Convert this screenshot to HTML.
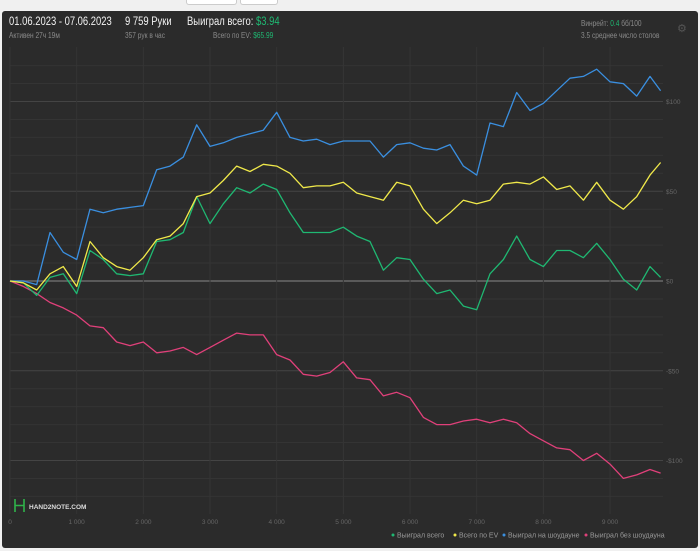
<!DOCTYPE html>
<html><head><meta charset="utf-8"><style>
body{margin:0;width:700px;height:551px;background:#f0f0f0;font-family:"Liberation Sans","Noto Sans CJK SC",sans-serif;overflow:hidden;position:relative}
.panel{position:absolute;left:2px;top:11px;width:696px;height:537px;background:#2b2b2b;border-radius:3px}
.t{position:absolute;white-space:nowrap;transform-origin:0 0}
.c{transform:scaleX(0.82)}
.btn{position:absolute;top:0;height:4px;background:#fff;border:1px solid #ccc;border-top:none;border-radius:0 0 3px 3px}
</style></head><body>
<div class="btn" style="left:186px;width:49px"></div>
<div class="btn" style="left:240px;width:36px"></div>
<div class="panel"></div>
<div class="t c" style="left:9px;top:16px;font-size:11.5px;color:#f2f2f2">01.06.2023 - 07.06.2023</div>
<div class="t c" style="left:9px;top:31px;font-size:8px;color:#8a8a8a">Активен 27ч 19м</div>
<div class="t c" style="left:125px;top:16px;font-size:11.5px;color:#f2f2f2">9 759 Руки</div>
<div class="t c" style="left:125px;top:31px;font-size:8px;color:#8a8a8a">357 рук в час</div>
<div class="t c" style="left:187px;top:16px;font-size:11.5px;color:#f2f2f2">Выиграл всего: <span style="color:#1fb872">$3.94</span></div>
<div class="t c" style="left:213px;top:31px;font-size:8px;color:#8a8a8a">Всего по EV: <span style="color:#1fb872">$65.99</span></div>
<div class="t c" style="left:581px;top:19px;font-size:8px;color:#8a8a8a">Винрейт: <span style="color:#1fb872">0.4</span> бб/100</div>
<div class="t c" style="left:581px;top:31px;font-size:8px;color:#8a8a8a">3.5 среднее число столов</div>
<div class="t" style="left:677px;top:22px;font-size:11px;color:#555">⚙</div>
<svg id="chart" width="700" height="551" style="position:absolute;left:0;top:0"></svg>
<script>
const hands=[0,200,400,600,800,1000,1200,1400,1600,1800,2000,2200,2400,2600,2800,3000,3200,3400,3600,3800,4000,4200,4400,4600,4800,5000,5200,5400,5600,5800,6000,6200,6400,6600,6800,7000,7200,7400,7600,7800,8000,8200,8400,8600,8800,9000,9200,9400,9600,9759];
const showdown=[0,0,-2,27,16,12,40,38,40,41,42,62,64,69,87,75,77,80,82,84,94,80,78,79,76,78,78,78,69,76,77,74,73,76,64,59,88,86,105,95,99,106,113,114,118,111,110,103,114,106];
const ev=[0,-1,-5,4,8,-3,22,13,8,6,13,23,25,32,47,49,56,64,61,65,64,60,52,53,53,55,49,47,45,55,53,40,32,38,45,43,45,54,55,54,58,51,53,45,55,45,40,47,59,66];
const total=[0,-1,-8,2,4,-7,17,12,4,3,4,22,23,27,47,32,43,52,49,54,51,38,27,27,27,30,25,22,6,13,12,1,-7,-5,-14,-16,4,12,25,12,8,17,17,13,21,12,1,-5,8,2];
const nonShowdown=[0,-3,-7,-12,-15,-19,-25,-26,-34,-36,-34,-40,-39,-37,-41,-37,-33,-29,-30,-30,-41,-44,-52,-53,-51,-45,-54,-55,-64,-62,-65,-76,-80,-80,-78,-77,-79,-77,-79,-85,-89,-93,-94,-100,-96,-102,-110,-108,-105,-107];
const xTicks=[0,1000,2000,3000,4000,5000,6000,7000,8000,9000];
const xTickLabels=["0","1 000","2 000","3 000","4 000","5 000","6 000","7 000","8 000","9 000"];
const yTicks=[100,50,0,-50,-100];
const yTickLabels=["$100","$50","$0","-$50","-$100"];
const legendLabels=["Выиграл всего","Всего по EV","Выиграл на шоудауне","Выиграл без шоудауна"];
const legendColors=["#1fb872","#f0e94a","#3a8fe0","#e0407a"];

const NS="http://www.w3.org/2000/svg";
const svg=document.getElementById('chart');
const X=h=>10+h*0.06667;
const Y=v=>281-v*1.795;
function mk(tag,attrs){const e=document.createElementNS(NS,tag);for(const k in attrs)e.setAttribute(k,attrs[k]);svg.appendChild(e);return e;}
for(let v=120;v>=-130;v-=10){
  const y=Y(v); if(y<47||y>514)continue;
  const g=mk('line',{x1:10,x2:663,y1:y,y2:y,stroke:v===0?'#6a6a6a':(v%50===0?'#444':'#343434'),'stroke-width':v===0?1.5:1});
  
  
}
for(let i=0;i<xTicks.length;i++){
  const x=X(xTicks[i]);
  const g=mk('line',{x1:x,x2:x,y1:47,y2:514,stroke:'#353535','stroke-width':1});
  
  
  const t=mk('text',{x:x,y:524,fill:'#666','font-size':6.5,'text-anchor':'middle','font-family':'Liberation Sans, sans-serif'});
  t.textContent=xTickLabels[i];
  
  
}
for(let i=0;i<yTicks.length;i++){
  const t=mk('text',{x:666,y:Y(yTicks[i])+2.5,fill:'#666','font-size':6.5,'font-family':'Liberation Sans, sans-serif'});
  t.textContent=yTickLabels[i];
  
  
}
const series=[[nonShowdown,legendColors[3],'line-non-showdown'],[showdown,legendColors[2],'line-showdown'],[total,legendColors[0],'line-total-won'],[ev,legendColors[1],'line-ev']];
for(const [d,c,n] of series){
  const p=mk('polyline',{points:d.map((v,i)=>X(hands[i]).toFixed(1)+','+Y(v).toFixed(1)).join(' '),fill:'none',stroke:c,'stroke-width':1.3,'stroke-linejoin':'round'});
  
  
}
const lx=[393,455,504,586];
for(let i=0;i<legendLabels.length;i++){
  const c=mk('circle',{cx:lx[i],cy:535,r:1.5,fill:legendColors[i]});
  
  
  const t=mk('text',{x:lx[i]+4,y:537.5,fill:'#999','font-size':7,'font-family':'Liberation Sans, sans-serif'});
  t.textContent=legendLabels[i];
  
  
}
const lg=mk('path',{d:'M15 499 v13 M24 499 v13 M15 505.5 h9',stroke:'#2fb34a','stroke-width':1.6,fill:'none'});


const lt=mk('text',{x:29,y:509,fill:'#ddd','font-size':6.5,'font-weight':'bold','font-family':'Liberation Sans, sans-serif'});
lt.textContent='HAND2NOTE.COM';


</script>
</body></html>
